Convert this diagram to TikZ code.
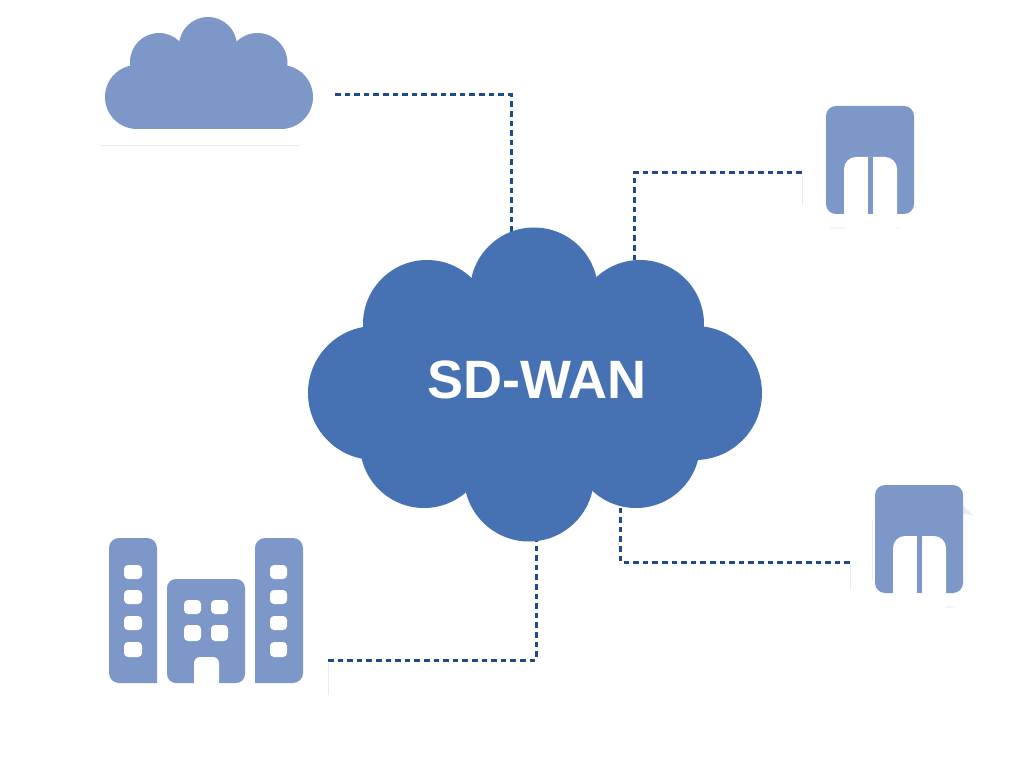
\documentclass[tikz,border=0pt]{standalone}
\usepackage{fontspec}
\setmainfont{Liberation Sans}
\definecolor{bigblue}{HTML}{4672B4}
\definecolor{iconblue}{HTML}{7D97C8}
\definecolor{linkblue}{HTML}{1F4A8C}
\definecolor{ghost}{HTML}{E6EAF6}
\definecolor{ghostpale}{HTML}{F3F5FB}
\tikzset{
  link/.style={draw=linkblue,line width=3pt,dash pattern=on 5.6pt off 4pt},
  bigcloud/.style={fill=bigblue},
  icon/.style={fill=iconblue},
  hole/.style={fill=white},
  residue/.style={draw=ghost,line width=1pt},
  residuepale/.style={draw=ghostpale,line width=1.2pt},
  winbox/.style={fill=white,rounded corners=4pt}
}
\newcommand{\serverIcon}[2]{%
  \fill[icon,rounded corners=10pt] (#1,#2) rectangle ++(88,108);
  \fill[hole,rounded corners=12pt] (#1+18,#2+51) rectangle (#1+71,#2+130);
  \fill[icon] (#1+42,#2+51) rectangle (#1+47,#2+108);
}
\begin{document}
\begin{tikzpicture}[x=1pt,y=-1pt]
\useasboundingbox (0,0) rectangle (1036,778);
\fill[white] (0,0) rectangle (1036,778);

% connector end points
\coordinate (cloudEnd) at (335,95);
\coordinate (cloudBend) at (511,95);
\coordinate (topA) at (511,240);
\coordinate (srvAEnd) at (802,173);
\coordinate (srvABend) at (634,173);
\coordinate (topB) at (634,270);
\coordinate (srvBEnd) at (850,562);
\coordinate (srvBBend) at (620.5,562);
\coordinate (botB) at (620.5,500);
\coordinate (bldEnd) at (328,660);
\coordinate (bldBend) at (536,660);
\coordinate (botA) at (536,535);

% connectors
\draw[link] (cloudEnd) -- (cloudBend) -- (topA);
\draw[link] (srvAEnd) -- (srvABend) -- (topB);
\draw[link] (srvBEnd) -- (srvBBend) -- (botB);
\draw[link] (bldEnd) -- (bldBend) -- (botA);

% faint traces
\draw[residue] (100,146) -- (300,146);
\draw[residue] (802,176) -- (802,205);
\draw[residue] (850,565) -- (850,590);
\draw[residue] (328,663) -- (328,695);
\draw[residue] (872,520) -- (872,580);
\draw[residuepale] (830,228) -- (900,228);
\draw[residuepale] (943,607) -- (955,607);
\fill[ghost] (963,506) -- (973,515) -- (963,514) -- cycle;

% central cloud
\fill[bigcloud] (534,291.5) circle (64);
\fill[bigcloud] (427,324) circle (64);
\fill[bigcloud] (640,324) circle (64);
\fill[bigcloud] (375,393) circle (67);
\fill[bigcloud] (695,393) circle (67);
\fill[bigcloud] (424,444) circle (64);
\fill[bigcloud] (529,476.5) circle (65);
\fill[bigcloud] (636,444) circle (64);
\fill[bigcloud] (400,300) rectangle (680,460);
\node[text=white,font=\bfseries\fontsize{54}{54}\selectfont,inner sep=0pt] (sdwan) at (537,380) {SD-WAN};

% small cloud
\fill[icon] (159,62) circle (29);
\fill[icon] (257.5,63) circle (30);
\fill[icon] (208,46) circle (29);
\fill[icon,rounded corners=32pt] (105,65) rectangle (313,129);
\fill[icon] (159,50) rectangle (257,90);

% servers
\serverIcon{826}{106}
\serverIcon{875}{485}

% buildings
\fill[icon,rounded corners=10pt] (157,683) -- (109,683) -- (109,538) -- (157,538) [sharp corners] -- (157,683) -- cycle;
\fill[icon,rounded corners=10pt] (255,683) -- (255,538) -- (303,538) -- (303,683) [sharp corners] -- (255,683) -- cycle;
\fill[icon,rounded corners=9pt] (167,579) rectangle (245,683);
\foreach \wy/\wh in {565/14,590/14,616/14,642/15}{
  \fill[winbox] (124,\wy) rectangle ++(18,\wh);
  \fill[winbox] (270,\wy) rectangle ++(17,\wh);
}
\foreach \wx/\ww in {184/17,211/17}{
  \fill[winbox] (\wx,600) rectangle ++(\ww,14);
  \fill[winbox] (\wx,625) rectangle ++(\ww,16);
}
\fill[hole,rounded corners=6pt] (194,657) rectangle (219,700);
\end{tikzpicture}
\end{document}
